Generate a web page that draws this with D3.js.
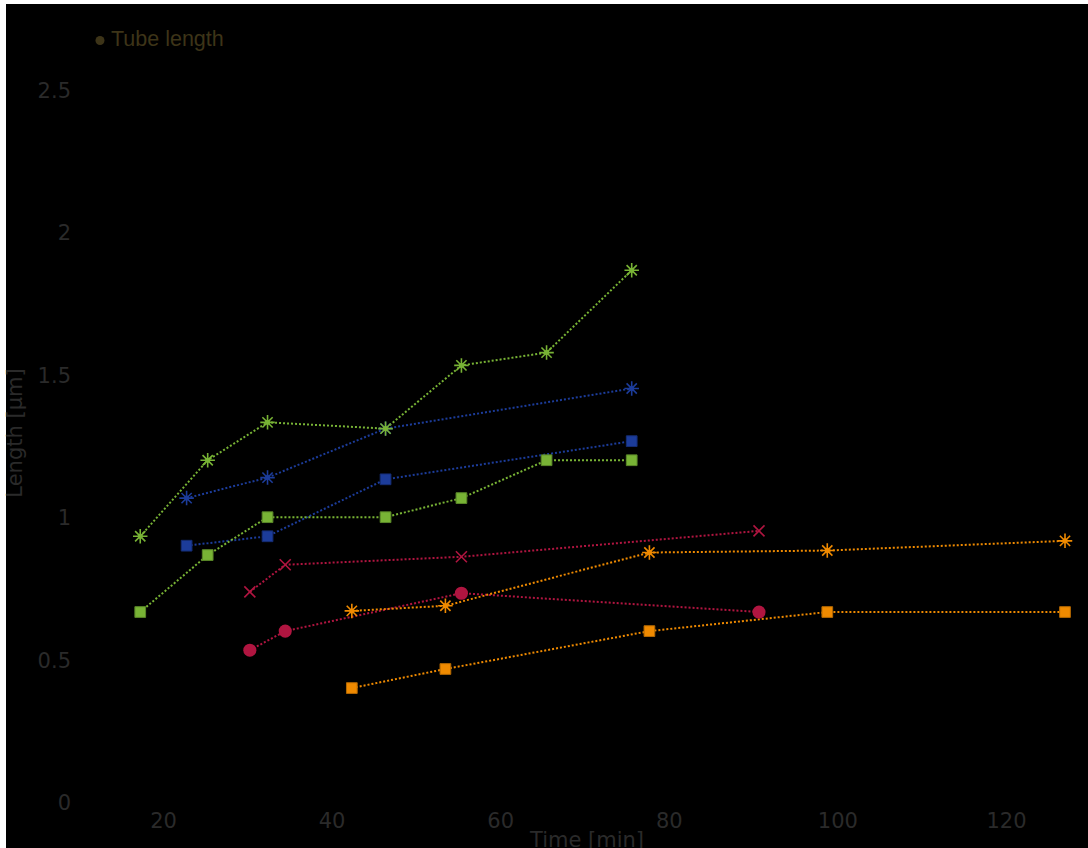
<!DOCTYPE html>
<html>
<head>
<meta charset="utf-8">
<script src="https://cdn.jsdelivr.net/npm/d3@7/dist/d3.min.js"></script>
<style>
  html, body { margin: 0; padding: 0; background: #ffffff; }
  svg { display: block; }
</style>
</head>
<body>
<svg id="chart" width="1088" height="848"></svg>
<script>
// Tick values for both axes
const xTicks = [20, 40, 60, 80, 100, 120];
const yTicks = [0, 0.5, 1, 1.5, 2, 2.5];

// Measurements: time [min] and tube length [µm] per series
const greenStarTime   = [17.3, 25.3, 32.4, 46.4, 55.4, 65.5, 75.6];
const greenStarLength = [0.933, 1.2, 1.333, 1.311, 1.533, 1.578, 1.867];

const blueStarTime    = [22.8, 32.4, 46.4, 75.6];
const blueStarLength  = [1.067, 1.139, 1.311, 1.452];

const blueSquareTime   = [22.8, 32.4, 46.4, 75.6];
const blueSquareLength = [0.9, 0.933, 1.133, 1.267];

const greenSquareTime   = [17.3, 25.3, 32.4, 46.4, 55.4, 65.5, 75.6];
const greenSquareLength = [0.667, 0.867, 1.0, 1.0, 1.067, 1.2, 1.2];

const redCrossTime   = [30.3, 34.5, 55.4, 90.7];
const redCrossLength = [0.738, 0.833, 0.861, 0.952];

const redCircleTime   = [30.3, 34.5, 55.4, 90.7];
const redCircleLength = [0.533, 0.6, 0.733, 0.667];

const orangeStarTime   = [42.4, 53.5, 77.7, 98.8, 127.0];
const orangeStarLength = [0.671, 0.689, 0.876, 0.883, 0.917];

const orangeSquareTime   = [42.4, 53.5, 77.7, 98.8, 127.0];
const orangeSquareLength = [0.4, 0.467, 0.6, 0.667, 0.667];

const legendLabel = "Tube length";
const xTitle = "Time [min]";
const yTitle = "Length [µm]";

// Colours
const GREEN = "#78b335", BLUE = "#1c3c9a", RED = "#b01540", ORANGE = "#ef8a00";

// Custom marker shapes
const asterisk = {
  draw(ctx, size) {
    const r = Math.sqrt(size) / 2;
    const d = r * Math.SQRT1_2;
    ctx.moveTo(-r, 0); ctx.lineTo(r, 0);
    ctx.moveTo(0, -r); ctx.lineTo(0, r);
    ctx.moveTo(-d, -d); ctx.lineTo(d, d);
    ctx.moveTo(-d, d); ctx.lineTo(d, -d);
  }
};
const cross = {
  draw(ctx, size) {
    const r = Math.sqrt(size) / 2;
    ctx.moveTo(-r, -r); ctx.lineTo(r, r);
    ctx.moveTo(-r, r); ctx.lineTo(r, -r);
  }
};

const series = [
  { t: blueStarTime,     v: blueStarLength,     color: BLUE,   shape: "star" },
  { t: blueSquareTime,   v: blueSquareLength,   color: BLUE,   shape: "square" },
  { t: greenStarTime,    v: greenStarLength,    color: GREEN,  shape: "star" },
  { t: greenSquareTime,  v: greenSquareLength,  color: GREEN,  shape: "square" },
  { t: redCircleTime,    v: redCircleLength,    color: RED,    shape: "circle" },
  { t: redCrossTime,     v: redCrossLength,     color: RED,    shape: "cross" },
  { t: orangeStarTime,   v: orangeStarLength,   color: ORANGE, shape: "star" },
  { t: orangeSquareTime, v: orangeSquareLength, color: ORANGE, shape: "square" }
];

const svg = d3.select("#chart");

// Dark canvas
svg.append("rect")
  .attr("x", 6).attr("y", 4)
  .attr("width", 1082).attr("height", 844)
  .attr("fill", "#000000");

const x = d3.scaleLinear().domain([20, 120]).range([163, 1006]);
const y = d3.scaleLinear().domain([0, 2.5]).range([802, 90]);

const TICK_COLOR = "#2a2a2a";
const TICK_FONT = "DejaVu Sans, sans-serif";

// Y axis labels
const yAxis = svg.append("g")
  .attr("transform", "translate(71,0)")
  .call(d3.axisLeft(y).tickValues(yTicks).tickSize(0).tickPadding(0).tickFormat(d3.format("~g")));
yAxis.select(".domain").remove();
yAxis.selectAll("text")
  .attr("fill", TICK_COLOR)
  .attr("font-family", TICK_FONT)
  .attr("font-size", 21)
  .attr("dy", "0.36em");

// X axis labels
const xAxis = svg.append("g")
  .attr("transform", "translate(0,802)")
  .call(d3.axisBottom(x).tickValues(xTicks).tickSize(0).tickFormat(d3.format("~g")));
xAxis.select(".domain").remove();
xAxis.selectAll("text")
  .attr("fill", TICK_COLOR)
  .attr("font-family", TICK_FONT)
  .attr("font-size", 21)
  .attr("y", 18)
  .attr("dy", "0.36em");

// Axis titles
svg.append("text")
  .attr("x", 587).attr("y", 847)
  .attr("text-anchor", "middle")
  .attr("fill", TICK_COLOR)
  .attr("font-family", TICK_FONT)
  .attr("font-size", 21)
  .text(xTitle);

svg.append("text")
  .attr("transform", "translate(22,433) rotate(-90)")
  .attr("text-anchor", "middle")
  .attr("fill", TICK_COLOR)
  .attr("font-family", TICK_FONT)
  .attr("font-size", 21)
  .text(yTitle);

// Legend
svg.append("circle")
  .attr("cx", 100).attr("cy", 40.5).attr("r", 4.5)
  .attr("fill", "#3d3418");
svg.append("text")
  .attr("x", 111).attr("y", 45.5)
  .attr("fill", "#3d3418")
  .attr("font-family", "Liberation Sans, Arial, sans-serif")
  .attr("font-size", 21.5)
  .text(legendLabel);

// Dotted connecting lines
const line = d3.line().x(d => x(d[0])).y(d => y(d[1]));
const plot = svg.append("g");

series.forEach(s => {
  const pts = s.t.map((t, i) => [t, s.v[i]]);
  plot.append("path")
    .datum(pts)
    .attr("d", line)
    .attr("fill", "none")
    .attr("stroke", s.color)
    .attr("stroke-width", 2)
    .attr("stroke-dasharray", "2,2");
});

// Markers
series.forEach(s => {
  const pts = s.t.map((t, i) => [t, s.v[i]]);
  const g = plot.append("g");
  const sel = g.selectAll("path").data(pts).join("path")
    .attr("transform", d => `translate(${x(d[0])},${y(d[1])})`);
  if (s.shape === "square") {
    sel.attr("d", d3.symbol(d3.symbolSquare, 115)())
      .attr("fill", s.color)
      .attr("stroke", d3.color(s.color).darker(0.8))
      .attr("stroke-width", 1);
  } else if (s.shape === "circle") {
    sel.attr("d", d3.symbol(d3.symbolCircle, 135)())
      .attr("fill", s.color);
  } else if (s.shape === "star") {
    sel.attr("d", d3.symbol(asterisk, 210)())
      .attr("fill", "none")
      .attr("stroke", s.color)
      .attr("stroke-width", 1.6);
    g.selectAll("circle").data(pts).join("circle")
      .attr("cx", d => x(d[0])).attr("cy", d => y(d[1])).attr("r", 2.5)
      .attr("fill", s.color);
  } else {
    sel.attr("d", d3.symbol(cross, 121)())
      .attr("fill", "none")
      .attr("stroke", s.color)
      .attr("stroke-width", 1.6);
  }
});
</script>
</body>
</html>
